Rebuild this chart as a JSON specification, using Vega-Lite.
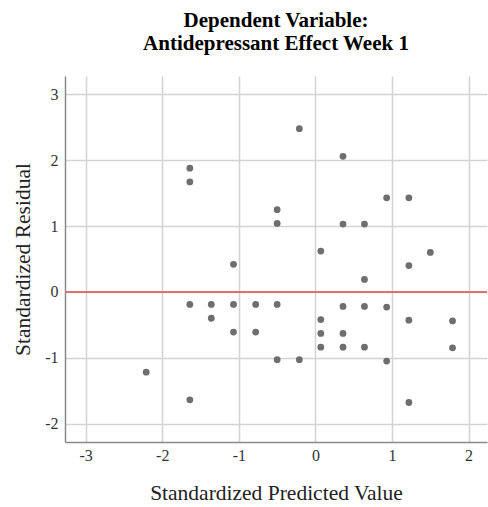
{
  "$schema": "https://vega.github.io/schema/vega-lite/v6.json",
  "width": 422,
  "height": 366,
  "autosize": {"type": "none"},
  "padding": {"left": 65, "top": 76, "right": 1, "bottom": 65},
  "background": "white",
  "title": {
    "text": ["Dependent Variable:", "Antidepressant Effect Week 1"],
    "font": "Liberation Serif",
    "fontSize": 21,
    "fontWeight": "bold",
    "color": "#000000",
    "anchor": "middle",
    "lineHeight": 23,
    "offset": 22
  },
  "data": {
    "values": [
      {"pred": -1.64, "resid": 1.88},
      {"pred": -1.64, "resid": 1.67},
      {"pred": -0.50, "resid": 1.25},
      {"pred": -0.50, "resid": 1.04},
      {"pred": -0.21, "resid": 2.48},
      {"pred": 0.36, "resid": 2.06},
      {"pred": 0.93, "resid": 1.43},
      {"pred": 1.22, "resid": 1.43},
      {"pred": 0.36, "resid": 1.03},
      {"pred": 0.64, "resid": 1.03},
      {"pred": 0.07, "resid": 0.62},
      {"pred": 1.50, "resid": 0.60},
      {"pred": -1.07, "resid": 0.42},
      {"pred": -1.64, "resid": -0.19},
      {"pred": -1.36, "resid": -0.19},
      {"pred": -1.07, "resid": -0.19},
      {"pred": -0.78, "resid": -0.19},
      {"pred": -0.50, "resid": -0.19},
      {"pred": -1.36, "resid": -0.40},
      {"pred": -1.07, "resid": -0.61},
      {"pred": -0.78, "resid": -0.61},
      {"pred": -0.50, "resid": -1.03},
      {"pred": -2.21, "resid": -1.22},
      {"pred": -1.64, "resid": -1.64},
      {"pred": 1.22, "resid": 0.40},
      {"pred": 0.64, "resid": 0.19},
      {"pred": 0.36, "resid": -0.22},
      {"pred": 0.64, "resid": -0.22},
      {"pred": 0.93, "resid": -0.23},
      {"pred": 0.07, "resid": -0.42},
      {"pred": 1.22, "resid": -0.43},
      {"pred": 1.79, "resid": -0.44},
      {"pred": 0.07, "resid": -0.63},
      {"pred": 0.36, "resid": -0.63},
      {"pred": 0.07, "resid": -0.84},
      {"pred": 0.36, "resid": -0.84},
      {"pred": 0.64, "resid": -0.84},
      {"pred": 1.79, "resid": -0.85},
      {"pred": -0.21, "resid": -1.03},
      {"pred": 0.93, "resid": -1.05},
      {"pred": 1.22, "resid": -1.68}
    ]
  },
  "layer": [
    {
      "mark": {"type": "point", "filled": true, "shape": "circle", "size": 46, "color": "#6e6e6e", "opacity": 1},
      "encoding": {
        "x": {
          "field": "pred",
          "type": "quantitative",
          "title": "Standardized Predicted Value",
          "scale": {"domain": [-3.27, 2.24], "nice": false, "zero": false},
          "axis": {"values": [-3, -2, -1, 0, 1, 2], "labelExpr": "'' + datum.value"}
        },
        "y": {
          "field": "resid",
          "type": "quantitative",
          "title": "Standardized Residual",
          "scale": {"domain": [-2.28, 3.28], "nice": false, "zero": false},
          "axis": {"values": [-2, -1, 0, 1, 2, 3], "labelExpr": "'' + datum.value"}
        }
      }
    },
    {
      "mark": {"type": "rule", "color": "#e07070", "strokeWidth": 1.5},
      "encoding": {"y": {"datum": 0, "type": "quantitative"}}
    }
  ],
  "config": {
    "view": {"stroke": null},
    "axis": {
      "domainColor": "#8a8a8a",
      "domainWidth": 1.5,
      "gridColor": "#d3d3d3",
      "gridWidth": 1.5,
      "ticks": false,
      "labelFont": "Liberation Serif",
      "labelFontSize": 16,
      "labelColor": "#333333",
      "titleFont": "Liberation Serif",
      "titleFontSize": 21.5,
      "titleFontWeight": "normal",
      "titleColor": "#222222"
    },
    "axisX": {"labelPadding": 5, "titlePadding": 19},
    "axisY": {"labelPadding": 7, "titlePadding": 10}
  }
}
